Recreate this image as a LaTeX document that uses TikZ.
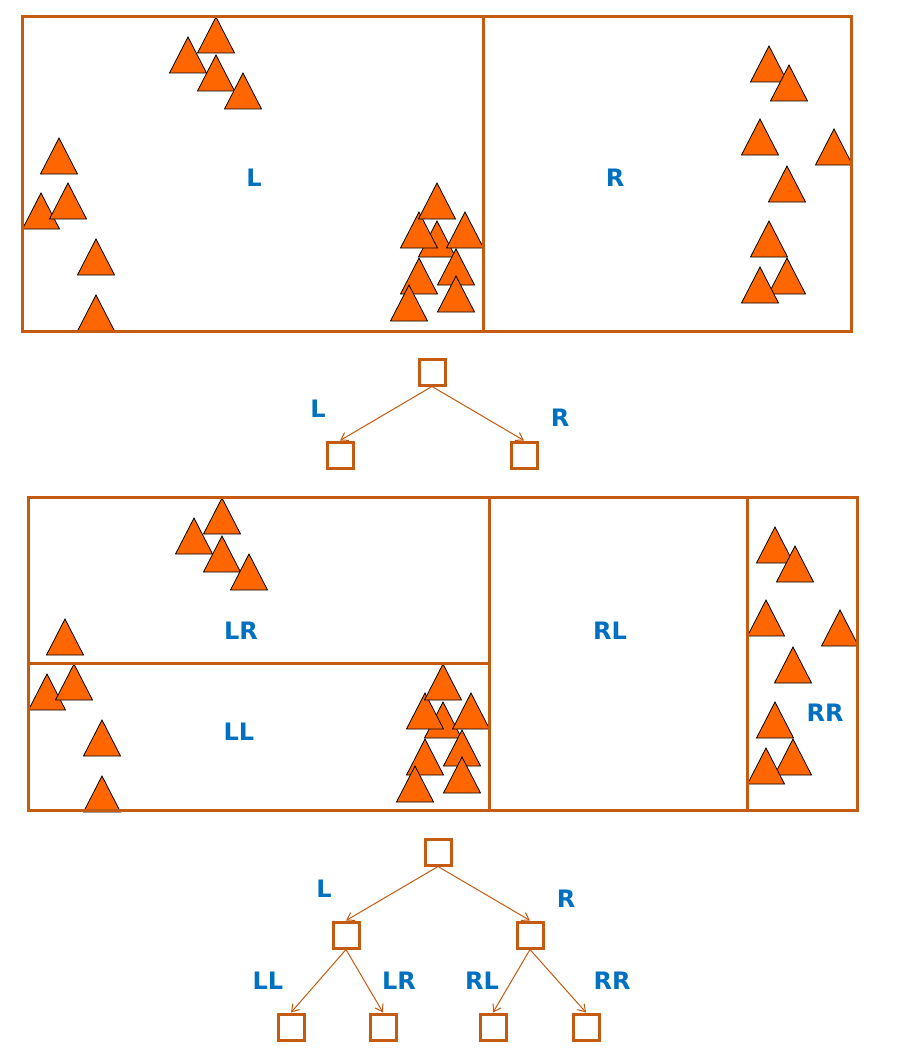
\documentclass[tikz,border=0pt]{standalone}
\usepackage{fontspec}
\setsansfont{DejaVu Sans}
\usetikzlibrary{math,arrows.meta}

\definecolor{framecol}{HTML}{C55A11}
\definecolor{trifill}{HTML}{FF6600}
\definecolor{labblue}{HTML}{0070C0}

% apexes of the triangles, left and right half
\def\leftpts{188/37, 216/17, 216/55, 243/73, 59/138, 41/193, 68/183, 96/239, 96/295,
  437/221, 419/212, 465/212, 437/183, 456/249, 419/258, 456/276, 409/285}
\def\rightpts{769/46, 789/65, 760/119, 834/129, 787/166, 769/221, 787/258, 760/267}

\begin{document}
\begin{tikzpicture}[x=1pt, y=-1pt,
    tri/.style={draw=black, line width=0.8pt, fill=trifill},
    region/.style={draw=framecol, line width=3pt},
    lab/.style={text=labblue, font=\fontsize{24}{28}\sffamily\bfseries, inner sep=0pt},
    box/.style={draw=framecol, line width=3pt, fill=white, minimum size=26pt, inner sep=0pt},
    branch/.style={draw=framecol, line width=1pt, -{Straight Barb[length=7pt,width=9pt]}}]
  \tikzmath{%
    \sx = 6; \sy = 481;
  }
  \useasboundingbox (0,0) rectangle (914,1054);

  % first split
  \foreach \x/\y in \leftpts {\draw[tri] (\x,\y) -- ++(-18.5,36) -- ++(37,0) -- cycle;}
  \foreach \x/\y in \rightpts {\draw[tri] (\x,\y) -- ++(-18.5,36) -- ++(37,0) -- cycle;}
  \draw[region] (22,17) rectangle (851,331);
  \draw[region] (483,17) -- (483,331);
  \node[lab] (topL) at (254,178) {L};
  \node[lab] (topR) at (615,178) {R};

  \node[box] (rootA) at (432,372) {};
  \node[box] (aL) at (340,455) {};
  \node[box] (aR) at (524,455) {};
  \draw[branch] (rootA.south) -- (aL.north);
  \draw[branch] (rootA.south) -- (aR.north);
  \node[lab] (aLlab) at (318,409) {L};
  \node[lab] (aRlab) at (560,418) {R};

  % second split
  \begin{scope}[shift={(\sx,\sy)}]
    \foreach \x/\y in \leftpts {\draw[tri] (\x,\y) -- ++(-18.5,36) -- ++(37,0) -- cycle;}
    \foreach \x/\y in \rightpts {\draw[tri] (\x,\y) -- ++(-18.5,36) -- ++(37,0) -- cycle;}
    \draw[region] (22,16) rectangle (851,329);
    \draw[region] (483,16) -- (483,329);
    \draw[region] (22,182) -- (483,182);
    \draw[region] (741,16) -- (741,329);
  \end{scope}
  \node[lab] (midLR) at (241,631) {LR};
  \node[lab] (midLL) at (239,732) {LL};
  \node[lab] (midRL) at (610,631) {RL};
  \node[lab] (midRR) at (825,713) {RR};

  \node[box] (rootB) at (438,852) {};
  \node[box] (bL) at (346,935) {};
  \node[box] (bR) at (530,935) {};
  \node[box] (bLL) at (291,1027) {};
  \node[box] (bLR) at (383,1027) {};
  \node[box] (bRL) at (493,1027) {};
  \node[box] (bRR) at (586,1027) {};
  \draw[branch] (rootB.south) -- (bL.north);
  \draw[branch] (rootB.south) -- (bR.north);
  \draw[branch] (bL.south) -- (bLL.north);
  \draw[branch] (bL.south) -- (bLR.north);
  \draw[branch] (bR.south) -- (bRL.north);
  \draw[branch] (bR.south) -- (bRR.north);
  \node[lab] (bLlab) at (324,889) {L};
  \node[lab] (bRlab) at (566,899) {R};
  \node[lab] (bLLlab) at (268,981) {LL};
  \node[lab] (bLRlab) at (399,981) {LR};
  \node[lab] (bRLlab) at (482,981) {RL};
  \node[lab] (bRRlab) at (612,981) {RR};
\end{tikzpicture}
\end{document}
